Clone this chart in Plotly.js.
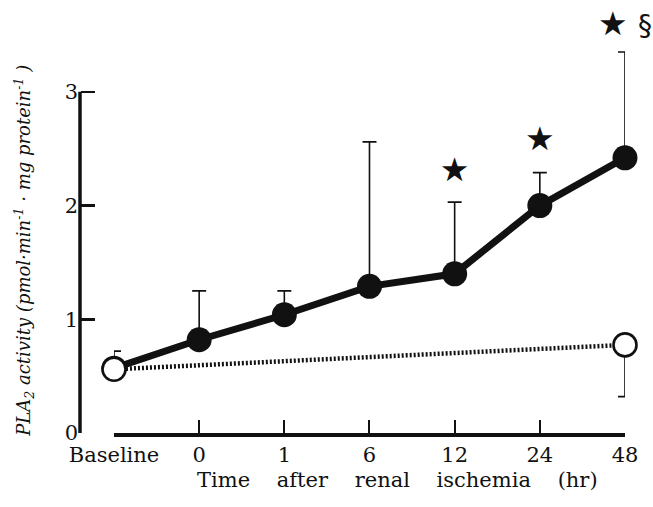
<!DOCTYPE html>
<html>
<head>
<meta charset="utf-8">
<script src="https://cdn.plot.ly/plotly-3.0.1.min.js"></script>
<style>html,body{margin:0;padding:0;background:#fff;}#chart{width:653px;height:507px;}</style>
</head>
<body>
<div id="chart"></div>
<script>
// Time points (x categories)
const categories = ['Baseline', '0', '1', '6', '12', '24', '48'];

// Y tick values
const yTicks = [0, 1, 2, 3];

// Ischemia group (filled circles): mean and upper error
const ischemiaMean  = [0.57, 0.82, 1.04, 1.29, 1.40, 2.00, 2.42];
const ischemiaErrUp = [0.00, 0.43, 0.21, 1.27, 0.63, 0.29, 0.93];

// Control group (open circles): measured only at Baseline and 48 hr
const controlX       = ['Baseline', '48'];
const controlMean    = [0.56, 0.775];
const controlErrUp   = [0.16, 0.00];
const controlErrDown = [0.00, 0.455];

// Significance marks
const sigX    = ['12', '24', '48'];
const sigY    = [2.29, 2.56, 3.57];
const sigText = ['★', '★', '★\u00A0<span style="font-size:28px">§</span>'];

const serif = 'DejaVu Serif, serif';
const ink = '#111';

const traces = [
  {
    type: 'scatter', mode: 'lines+markers',
    x: categories, y: ischemiaMean,
    line: {color: ink, width: 7},
    marker: {symbol: 'circle', size: 25, color: ink},
    error_y: {type: 'data', symmetric: false, array: ischemiaErrUp,
              arrayminus: ischemiaMean.map(() => 0),
              color: ink, thickness: 1.6, width: 7},
    cliponaxis: false, hoverinfo: 'skip', showlegend: false
  },
  {
    type: 'scatter', mode: 'lines+markers',
    x: controlX, y: controlMean,
    line: {color: ink, width: 4.5, dash: '2px,2px'},
    marker: {symbol: 'circle', size: 23, color: '#fff', line: {color: ink, width: 2.6}},
    error_y: {type: 'data', symmetric: false, array: controlErrUp, arrayminus: controlErrDown,
              color: ink, thickness: 1.6, width: 7},
    cliponaxis: false, hoverinfo: 'skip', showlegend: false
  },
  {
    type: 'scatter', mode: 'text',
    x: sigX, y: sigY, text: sigText,
    textposition: 'middle center',
    textfont: {family: 'DejaVu Sans', size: 33, color: ink},
    cliponaxis: false, hoverinfo: 'skip', showlegend: false
  }
];

const sp = '\u00A0\u00A0\u00A0\u00A0';

const layout = {
  width: 653, height: 507,
  margin: {l: 80, r: 10, t: 10, b: 74},
  paper_bgcolor: '#fff', plot_bgcolor: '#fff',
  showlegend: false,
  font: {family: serif, color: ink},
  xaxis: {
    type: 'category', categoryorder: 'array', categoryarray: categories,
    range: [0, 6], domain: [0.0604, 0.968],
    showline: true, linecolor: ink, linewidth: 3.5,
    ticks: 'inside', ticklen: 13, tickwidth: 2, tickcolor: ink,
    showgrid: false, zeroline: false,
    tickfont: {family: serif, size: 21, color: ink},
    ticklabelstandoff: 0,
    anchor: 'y', fixedrange: true
  },
  yaxis: {
    range: [0, 3.72], tickvals: yTicks,
    anchor: 'free', position: 0,
    showline: false,
    ticks: 'inside', ticklen: 14, tickwidth: 2.5, tickcolor: ink,
    showgrid: false, zeroline: false,
    tickfont: {family: serif, size: 21, color: ink},
    ticklabelstandoff: 2,
    fixedrange: true
  },
  shapes: [
    // visible y-axis line, spanning only the ticked range 0..3
    {type: 'line', xref: 'paper', yref: 'y', x0: 0, x1: 0,
     y0: yTicks[0] - 0.03, y1: yTicks[yTicks.length - 1],
     line: {color: ink, width: 3.5}}
  ],
  annotations: [
    {
      xref: 'paper', yref: 'paper', x: -0.1, y: 0.43,
      xanchor: 'center', yanchor: 'middle', showarrow: false, textangle: -90,
      text: '<i>PLA<sub>2</sub> activity (pmol·min<sup>-1</sup> · mg protein<sup>-1</sup> )</i>',
      font: {family: serif, size: 18, color: ink}
    },
    {
      xref: 'paper', yref: 'paper', x: 0.564, y: -0.11,
      xanchor: 'center', yanchor: 'middle', showarrow: false,
      text: 'Time' + sp + 'after' + sp + 'renal' + sp + 'ischemia' + sp + '(hr)',
      font: {family: serif, size: 21, color: ink}
    }
  ]
};

Plotly.newPlot('chart', traces, layout, {staticPlot: true, displayModeBar: false});
</script>
</body>
</html>
